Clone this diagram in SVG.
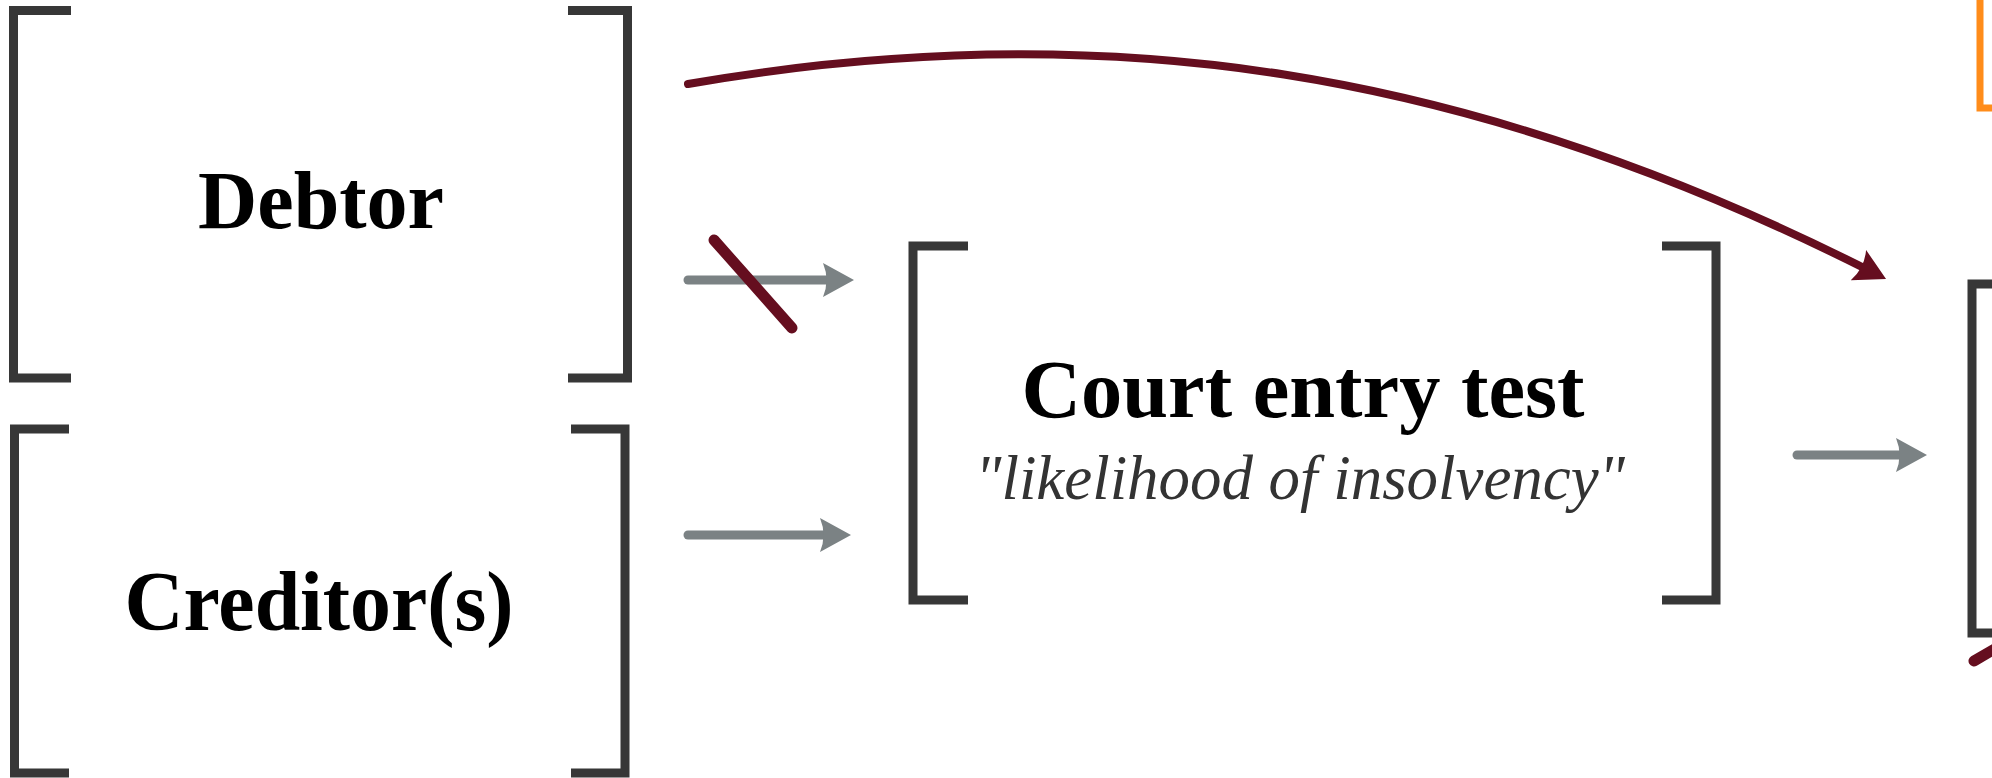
<svg xmlns="http://www.w3.org/2000/svg" width="1992" height="778" viewBox="0 0 1992 778">
  <style>
    .br { fill: none; stroke: #373737; stroke-width: 9; stroke-linejoin: miter; stroke-linecap: butt; }
    .title { font-family: "Liberation Serif", "DejaVu Serif", serif; font-weight: bold; fill: #000; text-anchor: middle; }
    .sub { font-family: "Liberation Serif", "DejaVu Serif", serif; font-style: italic; fill: #333; text-anchor: middle; }
    .grey { fill: none; stroke: #7b8284; stroke-width: 9; stroke-linecap: round; }
    .maroon { fill: none; stroke: #650e1f; stroke-linecap: round; }
  </style>
  <defs>
    <marker id="ahGrey" markerUnits="userSpaceOnUse" viewBox="0 0 31 34" markerWidth="31" markerHeight="34" refX="13" refY="17" orient="auto">
      <path d="M0,0 L31,17 L0,34 Q7,17 0,0 Z" fill="#7b8284"/>
    </marker>
    <marker id="ahMaroon" markerUnits="userSpaceOnUse" viewBox="0 0 31 34" markerWidth="31" markerHeight="34" refX="13" refY="17" orient="auto">
      <path d="M0,0 L31,17 L0,34 Q7,17 0,0 Z" fill="#650e1f"/>
    </marker>
  </defs>

  <g id="debtor">
    <path class="br" d="M71,10.5 H13.5 V378 H71"/>
    <path class="br" d="M568,10.5 H627.5 V378 H568"/>
    <text class="title" x="321" y="228" font-size="83" textLength="246" lengthAdjust="spacingAndGlyphs">Debtor</text>
  </g>

  <g id="creditors">
    <path class="br" d="M69,429 H14.5 V773 H69"/>
    <path class="br" d="M571,429 H625 V773 H571"/>
    <text class="title" x="319" y="630" font-size="85" textLength="389" lengthAdjust="spacingAndGlyphs">Creditor(s)</text>
  </g>

  <g id="court-entry-test">
    <path class="br" d="M968,246 H913 V600 H968"/>
    <path class="br" d="M1662,246 H1716 V600 H1662"/>
    <text class="title" x="1303" y="417" font-size="83" textLength="563" lengthAdjust="spacingAndGlyphs">Court entry test</text>
    <text class="sub" x="1300" y="499" font-size="64" textLength="650" lengthAdjust="spacingAndGlyphs">"likelihood of insolvency"</text>
  </g>

  <g id="next-stage">
    <path class="br" d="M1992,284 H1972 V633 H1992"/>
  </g>

  <g id="top-right-node">
    <path d="M1992,108 H1980 V-10" fill="none" stroke="#ff8c1a" stroke-width="7"/>
  </g>

  <g id="connectors">
    <line class="grey" x1="688" y1="280" x2="836" y2="280" marker-end="url(#ahGrey)"/>
    <line class="grey" x1="688" y1="535" x2="833" y2="535" marker-end="url(#ahGrey)"/>
    <line class="grey" x1="1797" y1="455" x2="1909" y2="455" marker-end="url(#ahGrey)"/>
    <line class="maroon" stroke-width="11" x1="714" y1="240" x2="792" y2="328"/>
    <path class="maroon" stroke-width="8" d="M688,84 C1102,12 1469.5,68.5 1870,271" marker-end="url(#ahMaroon)"/>
    <line class="maroon" stroke-width="11" x1="1974" y1="661" x2="2010" y2="640"/>
  </g>
</svg>
